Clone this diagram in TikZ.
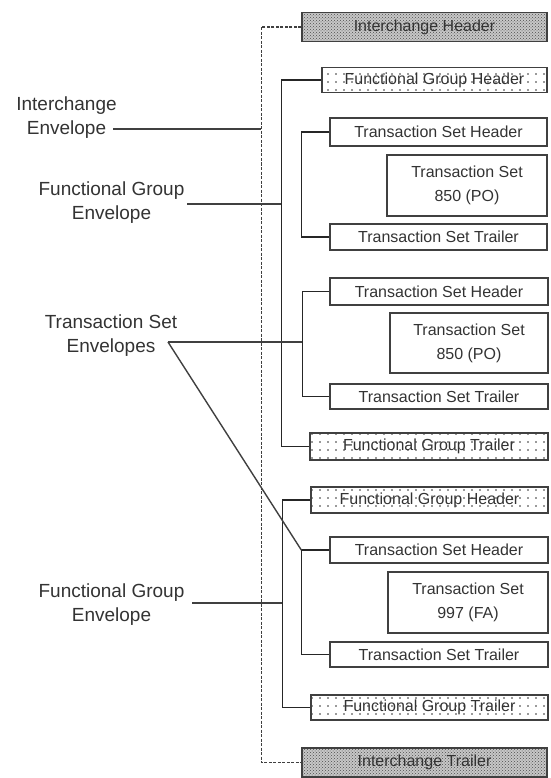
\documentclass[tikz,border=0pt]{standalone}
\usepackage{fontspec}
\setmainfont{Liberation Sans}
\usetikzlibrary{patterns,patterns.meta}

\tikzdeclarepattern{
  name=sparsedots,
  type=uncolored,
  bounding box={(-1pt,-1pt) and (1pt,1pt)},
  tile size={(8pt,8pt)},
  code={\pgfpathcircle{\pgfpointorigin}{0.8pt}\pgfusepath{fill}}
}

\begin{document}
\begin{tikzpicture}[box/.style={draw=black!75, line width=1.4pt, inner sep=0pt, text=black!80, font=\fontsize{16}{24}\selectfont, align=center},
  ichbox/.style={box, minimum width=245pt, minimum height=29pt, preaction={fill=black!22}, pattern=crosshatch dots, pattern color=black!70},
  grpbox/.style={box, minimum width=237pt, minimum height=25pt, pattern=sparsedots, pattern color=black!80},
  setbox/.style={box, minimum width=218pt, minimum height=26pt},
  docbox/.style={box, minimum width=160pt, minimum height=61pt},
  lbl/.style={text=black!80, font=\fontsize{19}{24}\selectfont, align=center},
  brk/.style={draw=black!85, line width=1.4pt},
  ibrk/.style={draw=black!75, line width=1.4pt, dash pattern=on 3pt off 1.5pt},
  lead/.style={draw=black!75, line width=1.4pt}]
  \useasboundingbox (0pt, 0pt) rectangle (550pt, -778pt);
  % boxes
  \draw (424.5pt, -27pt)node[ichbox](ih){Interchange Header};
  \draw (434.5pt, -80pt)node[grpbox, minimum width=225pt](fgh1){Functional Group Header};
  \draw (438.5pt, -132pt)node[setbox, minimum width=217pt, minimum height=28pt](tsh1){Transaction Set Header};
  \draw (467pt, -185.5pt)node[docbox](ts1){Transaction Set\\850 (PO)};
  \draw (438.5pt, -237pt)node[setbox, minimum width=217pt](tst1){Transaction Set Trailer};
  \draw (439pt, -291.5pt)node[setbox, minimum height=27pt](tsh2){Transaction Set Header};
  \draw (469pt, -343pt)node[docbox, minimum width=158pt, minimum height=60pt](ts2){Transaction Set\\850 (PO)};
  \draw (439pt, -396.5pt)node[setbox, minimum height=25pt](tst2){Transaction Set Trailer};
  \draw (429pt, -446.5pt)node[grpbox, minimum width=238pt, minimum height=27pt](fgt1){Functional Group Trailer};
  \draw (429.5pt, -500pt)node[grpbox, minimum height=26pt](fgh2){Functional Group Header};
  \draw (439pt, -550pt)node[setbox](tsh3){Transaction Set Header};
  \draw (468pt, -602.5pt)node[docbox](ts3){Transaction Set\\997 (FA)};
  \draw (439pt, -654.5pt)node[setbox, minimum height=25pt](tst3){Transaction Set Trailer};
  \draw (429.5pt, -707.5pt)node[grpbox](fgt2){Functional Group Trailer};
  \draw (424.5pt, -762.5pt)node[ichbox](it){Interchange Trailer};
  % brackets
  \coordinate (ibk) at ([xshift=-40pt]ih.west);
  \coordinate (fbk1) at ([xshift=-40pt]fgh1.west);
  \coordinate (fbk2) at ([xshift=-28pt]fgh2.west);
  \coordinate (tbk2) at ([xshift=-27pt]tsh2.west);
  \coordinate (tbk3) at ([xshift=-28pt]tsh3.west);
  \draw[ibrk] (ih.west) -- (ibk) |- (it.west);
  \draw[brk] (fgh1.west) -- (fbk1) |- (fgt1.west);
  \draw[brk] (fgh2.west) -- (fbk2) |- (fgt2.west);
  \draw[brk] (tsh1.west) -- ++(-28pt, 0pt) |- (tst1.west);
  \draw[brk] (tsh2.west) -- (tbk2) |- (tst2.west);
  \draw[brk] (tsh3.west) -- (tbk3) |- (tst3.west);
  % labels
  \draw (66.5pt, -118pt)node[lbl](iel){Interchange\\Envelope};
  \draw (111.5pt, -203pt)node[lbl](fgl1){Functional Group\\Envelope};
  \draw (111pt, -335.5pt)node[lbl](tsl){Transaction Set\\Envelopes};
  \draw (111.5pt, -604.5pt)node[lbl](fgl2){Functional Group\\Envelope};
  \coordinate (ieA) at (113pt, -129pt);
  \coordinate (fgA) at (187pt, -204pt);
  \coordinate (tsA) at (168pt, -342pt);
  \coordinate (fgB) at (192pt, -603pt);
  \draw[lead] (ieA) -- (ieA -| ibk);
  \draw[lead] (fgA) -- (fgA -| fbk1);
  \draw[lead] (tsA) -- (tsA -| tbk2);
  \draw[lead] (tsA) -- (tbk3);
  \draw[lead] (fgB) -- (fgB -| fbk2);
\end{tikzpicture}
\end{document}
